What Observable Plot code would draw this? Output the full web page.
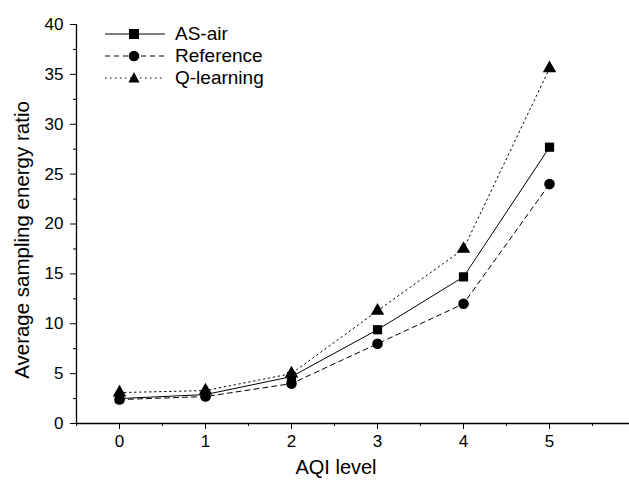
<!DOCTYPE html>
<html>
<head>
<meta charset="utf-8">
<script src="https://cdn.jsdelivr.net/npm/d3@7"></script>
<script src="https://cdn.jsdelivr.net/npm/@observablehq/plot@0.6"></script>
<style>
  html, body { margin: 0; padding: 0; background: #fff; }
  #wrap { position: relative; width: 629px; height: 484px; font-family: "Liberation Sans", Arial, sans-serif; }
  #legend { position: absolute; left: 103px; top: 23px; font-size: 19px; color: #000; }
  #legend .row { display: flex; align-items: center; height: 22px; }
  #legend svg { margin-right: 10px; }
</style>
</head>
<body>
<div id="wrap"><div id="legend"></div></div>
<script>
const levels = [0, 1, 2, 3, 4, 5];
const asAir = [2.5, 2.9, 4.7, 9.4, 14.7, 27.7];
const reference = [2.4, 2.7, 4.0, 8.0, 12.0, 24.0];
const qLearning = [3.1, 3.3, 5.0, 11.3, 17.5, 35.6];
const seriesNames = ["AS-air", "Reference", "Q-learning"];
const xTicks = [0, 1, 2, 3, 4, 5];
const xMinor = [-0.5, 0.5, 1.5, 2.5, 3.5, 4.5, 5.5];
const yTicks = [0, 5, 10, 15, 20, 25, 30, 35, 40];
const yMinor = [2.5, 7.5, 12.5, 17.5, 22.5, 27.5, 32.5, 37.5];

const styles = {
  "AS-air": {dash: null, symbol: "square", r: 5.2},
  "Reference": {dash: "5,4", symbol: "circle", r: 5.3},
  "Q-learning": {dash: "1.5,3.5", symbol: "triangle", r: 5}
};
const valuesBy = {"AS-air": asAir, "Reference": reference, "Q-learning": qLearning};
const data = seriesNames.flatMap(s => levels.map((l, i) => ({series: s, x: l, y: valuesBy[s][i]})));

const marks = [
  Plot.ruleY([0], {stroke: "#000", strokeWidth: 1.3}),
  Plot.ruleX([-0.5], {stroke: "#000", strokeWidth: 1.3}),
  Plot.axisX({ticks: xTicks, tickSize: 6, tickPadding: 5, fontSize: 17, label: null, tickFormat: d3.format("d")}),
  Plot.axisX({ticks: xMinor, tickSize: 3, tickFormat: () => "", label: null}),
  Plot.axisY({ticks: yTicks, tickSize: 6, tickPadding: 7, fontSize: 17, label: null}),
  Plot.axisY({ticks: yMinor, tickSize: 3, tickFormat: () => "", label: null}),
  Plot.text(["Average sampling energy ratio"], {frameAnchor: "left", textAnchor: "middle", rotate: -90, dx: -54, dy: 16, fontSize: 20.5}),
  Plot.text(["AQI level"], {frameAnchor: "bottom", textAnchor: "middle", dx: -17, dy: 50, fontSize: 20})
];
for (const s of seriesNames) {
  const d = data.filter(p => p.series === s);
  const st = styles[s];
  marks.push(Plot.line(d, {x: "x", y: "y", stroke: "#000", strokeWidth: 1, strokeDasharray: st.dash}));
  marks.push(Plot.dot(d, {x: "x", y: "y", symbol: st.symbol, r: st.r, fill: "#000", stroke: "none"}));
}

const chart = Plot.plot({
  width: 629,
  height: 484,
  marginLeft: 76,
  marginRight: 0,
  marginTop: 24,
  marginBottom: 61,
  style: {fontFamily: "'Liberation Sans', Arial, sans-serif", color: "#000", background: "#fff"},
  x: {domain: [-0.5, 5.93]},
  y: {domain: [0, 40]},
  marks
});
chart.style.position = "absolute";
chart.style.left = "0";
chart.style.top = "0";
document.getElementById("wrap").prepend(chart);

const legend = document.getElementById("legend");
const symPath = {
  square: "M26,7 h10 v10 h-10 z",
  triangle: "M31,6 L36.5,16.5 L25.5,16.5 z"
};
for (const s of seriesNames) {
  const st = styles[s];
  const row = document.createElement("div");
  row.className = "row";
  let shape;
  if (st.symbol === "circle") shape = `<circle cx="31" cy="12" r="5.3" fill="#000"/>`;
  else shape = `<path d="${symPath[st.symbol]}" fill="#000"/>`;
  row.innerHTML = `<svg width="62" height="24"><line x1="2" x2="62" y1="12" y2="12" stroke="#000" stroke-width="1" ${st.dash ? `stroke-dasharray="${st.dash}"` : ""}/>${shape}</svg><span>${s}</span>`;
  legend.appendChild(row);
}
</script>
</body>
</html>
